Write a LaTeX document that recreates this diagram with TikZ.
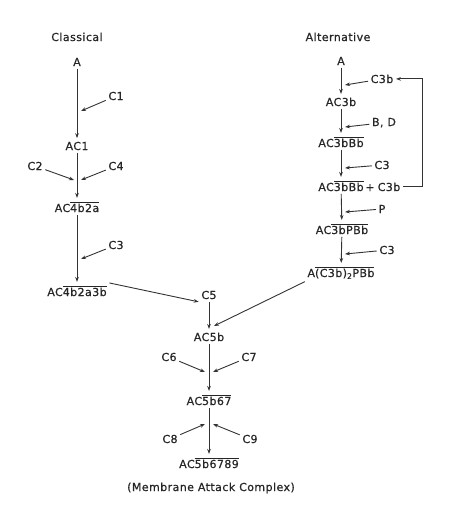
\documentclass[tikz,border=0pt]{standalone}
\usepackage{fontspec}
\setmainfont[LetterSpace=4, FakeBold=0.7]{DejaVu Sans}
\usetikzlibrary{arrows.meta}
\newcommand{\ovl}[1]{$\overline{\mbox{#1}}$}
\begin{document}
\begin{tikzpicture}[x=1pt,y=-1pt,
  lbl/.style={anchor=base, inner sep=2.5pt, font=\fontsize{11}{13}\selectfont, text=black!85},
  arr/.style={draw=black!80, line width=0.9pt, -{Stealth[length=5pt,width=3.6pt]}},
  vl/.style={arr, shorten >=1pt}]
\useasboundingbox (0,0) rectangle (474,515);
% Classical pathway
\node[lbl] (cl) at (77,41) {Classical};
\node[lbl] (A1) at (77,66) {A};
\node[lbl] (C1) at (116,100) {C1};
\node[lbl] (AC1) at (77,150) {AC1};
\node[lbl] (C2) at (35,170) {C2};
\node[lbl] (C4) at (116,170) {C4};
\node[lbl] (AC4b2a) at (77,212) {AC\ovl{4b2a}};
\node[lbl] (C3a) at (116,249) {C3};
\node[lbl] (AC4b2a3b) at (77,296) {AC\ovl{4b2a3b}};
% Alternative pathway
\node[lbl] (alt) at (338,41) {Alternative};
\node[lbl] (A2) at (341,65) {A};
\node[lbl] (C3btop) at (382,83) {C3b};
\node[lbl] (AC3b) at (341,106) {AC3b};
\node[lbl] (BD) at (384,126) {B, D};
\node[lbl] (AC3bBb) at (341,147) {AC\ovl{3bBb}};
\node[lbl] (C3b2) at (382,169) {C3};
\node[lbl] (AC3bBbb) at (341,191) {AC\ovl{3bBb}};
\node[lbl] (plus) at (370,191) {+};
\node[lbl] (C3bb) at (389,191) {C3b};
\node[lbl] (P) at (382,213) {P};
\node[lbl] (AC3bPBb) at (342,234) {AC\ovl{3bPBb}};
\node[lbl] (C3c) at (387,254) {C3};
\node[lbl] (ACalt) at (341,277) {A\ovl{(C3b)\textsubscript{2}PBb}};
% Terminal pathway
\node[lbl] (C5) at (209,299) {C5};
\node[lbl] (AC5b) at (209,341) {AC5b};
\node[lbl] (C6) at (169,361) {C6};
\node[lbl] (C7) at (249,361) {C7};
\node[lbl] (AC5b67) at (209,405) {AC\ovl{5b67}};
\node[lbl] (C8) at (170,443) {C8};
\node[lbl] (C9) at (250,443) {C9};
\node[lbl] (MAC) at (209,468) {AC\ovl{5b6789}};
\node[lbl] (mac) at (211,491) {(Membrane Attack Complex)};
% target points
\coordinate (t1) at (81,111);
\coordinate (t2) at (74,180);
\coordinate (t4) at (81,180);
\coordinate (t3) at (81,259);
\coordinate (u1) at (345,85);
\coordinate (u2) at (345,127);
\coordinate (u3) at (345,168);
\coordinate (u4) at (345,212);
\coordinate (u5) at (345,254);
\coordinate (m5) at (214,326);
\coordinate (v6) at (205,372);
\coordinate (v7) at (213,372);
\coordinate (v8) at (205,424);
\coordinate (v9) at (213,424);
\coordinate (fbx) at (422,0);
% classical connectors
\draw[vl] (A1) -- (AC1);
\draw[vl] (AC1) -- (AC4b2a);
\draw[vl] (AC4b2a) -- (AC4b2a3b);
\draw[arr] (C1) -- (t1);
\draw[arr] (C2) -- (t2);
\draw[arr] (C4) -- (t4);
\draw[arr] (C3a) -- (t3);
% alternative connectors
\draw[vl] (A2) -- (AC3b);
\draw[vl] (AC3b) -- (AC3bBb);
\draw[vl] (AC3bBb) -- (AC3bBbb);
\draw[vl] (AC3bBbb) -- (AC3bPBb);
\draw[vl] (AC3bPBb) -- (ACalt);
\draw[arr] (C3btop) -- (u1);
\draw[arr] (BD) -- (u2);
\draw[arr] (C3b2) -- (u3);
\draw[arr] (P) -- (u4);
\draw[arr] (C3c) -- (u5);
\draw[arr] (C3bb.east) -- (C3bb.east -| fbx) |- (C3btop.east);
% terminal connectors
\draw[arr] (AC4b2a3b.north east) -- (C5.south west);
\draw[arr] (ACalt.south west) -- (m5);
\draw[vl] (C5) -- (AC5b);
\draw[vl] (AC5b) -- (AC5b67);
\draw[vl] (AC5b67) -- (MAC);
\draw[arr] (C6) -- (v6);
\draw[arr] (C7) -- (v7);
\draw[arr] (C8) -- (v8);
\draw[arr] (C9) -- (v9);
\end{tikzpicture}
\end{document}
